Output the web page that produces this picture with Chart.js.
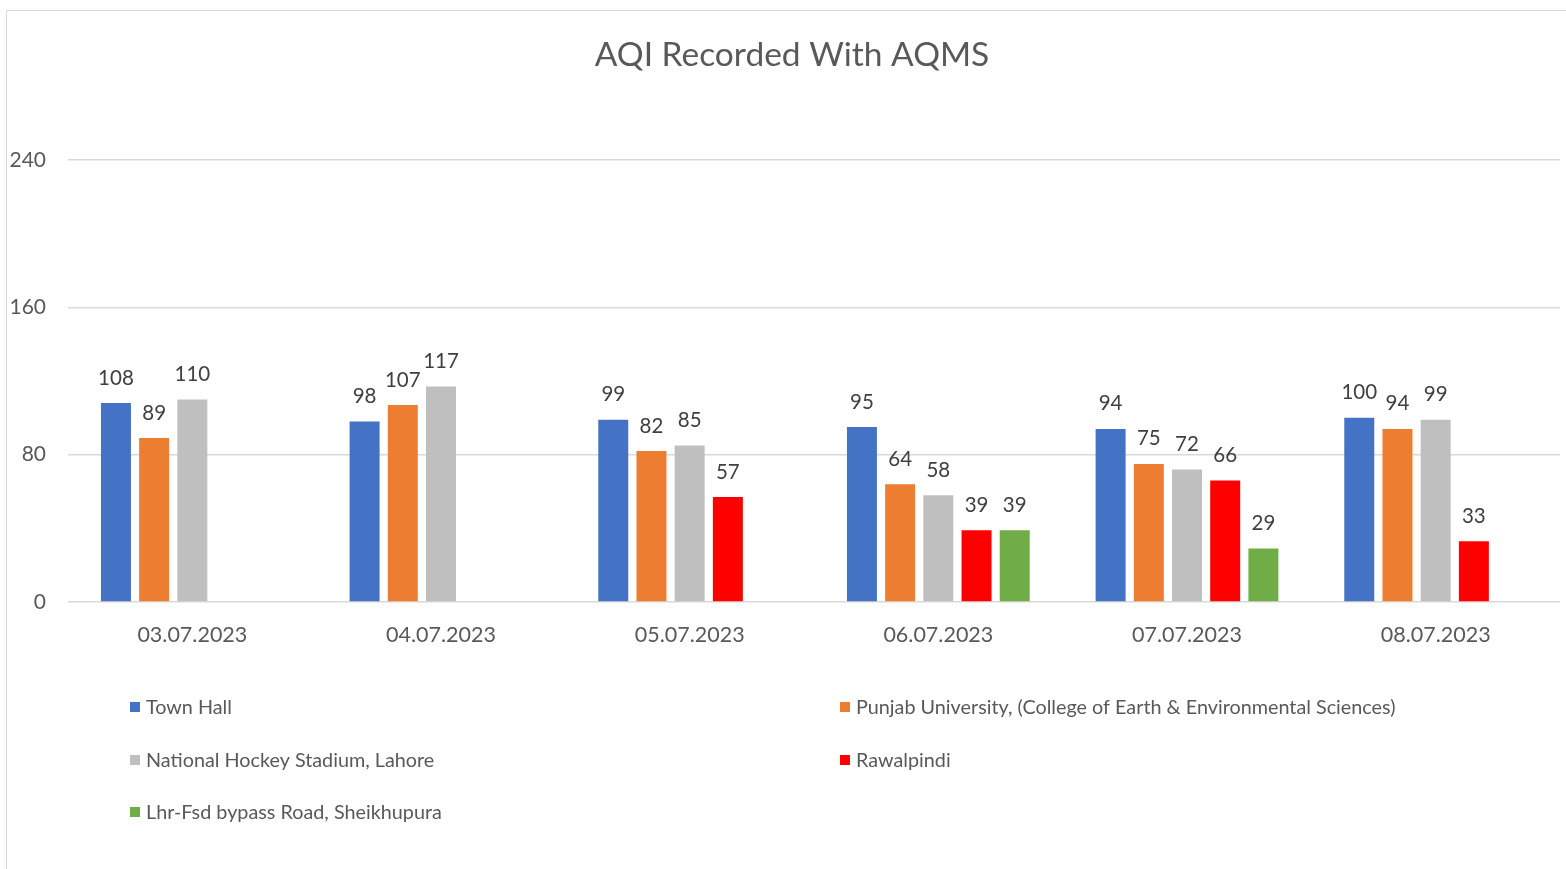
<!DOCTYPE html>
<html>
<head>
<meta charset="utf-8">
<script src="https://cdn.jsdelivr.net/npm/chart.js@4.4.1/dist/chart.umd.min.js"></script>
<style>
  html, body { margin: 0; padding: 0; background: #fff; overflow: hidden; }
  #frame { position: absolute; left: 6px; top: 10px; width: 1600px; height: 900px; border: 1.5px solid #D9D9D9; box-sizing: border-box; }
  #wrap { position: absolute; left: 0; top: 0; width: 1566px; height: 869px; }
</style>
</head>
<body>
<div id="frame"></div>
<div id="wrap"><canvas id="c" width="1566" height="869"></canvas></div>
<script>
const categories = ["03.07.2023", "04.07.2023", "05.07.2023", "06.07.2023", "07.07.2023", "08.07.2023"];
const townHall = [108, 98, 99, 95, 94, 100];
const punjabUniversity = [89, 107, 82, 64, 75, 94];
const hockeyStadium = [110, 117, 85, 58, 72, 99];
const rawalpindi = [null, null, 57, 39, 66, 33];
const sheikhupura = [null, null, null, 39, 29, null];
const seriesNames = [
  "Town Hall",
  "Punjab University, (College of Earth & Environmental Sciences)",
  "National Hockey Stadium, Lahore",
  "Rawalpindi",
  "Lhr-Fsd bypass Road, Sheikhupura"
];
const yTicks = [0, 80, 160, 240];
const titleText = "AQI Recorded With AQMS";

const colors = ["#4472C4", "#ED7D31", "#BFBFBF", "#FF0000", "#70AD47"];
const FONT = "Lato";
const TEXT = "#595959";

const seriesData = [townHall, punjabUniversity, hockeyStadium, rawalpindi, sheikhupura];

const labelPlugin = {
  id: "valueLabels",
  afterDatasetsDraw(chart) {
    const ctx = chart.ctx;
    ctx.save();
    ctx.font = "20.5px " + FONT;
    ctx.fillStyle = "#404040";
    ctx.textAlign = "center";
    ctx.textBaseline = "middle";
    chart.data.datasets.forEach((ds, i) => {
      const meta = chart.getDatasetMeta(i);
      meta.data.forEach((bar, j) => {
        const v = ds.data[j];
        if (v === null || v === undefined) return;
        ctx.fillText(String(v), bar.x, bar.y - 25);
      });
    });
    ctx.restore();
  }
};

const decorPlugin = {
  id: "decor",
  afterDraw(chart) {
    const ctx = chart.ctx;
    ctx.save();
    // title
    ctx.font = "33.5px " + FONT;
    ctx.fillStyle = TEXT;
    ctx.textAlign = "center";
    ctx.textBaseline = "middle";
    ctx.fillText(titleText, 792, 55);
    // legend
    const cols = [130, 840];
    const rows = [707, 760, 812];
    ctx.font = "19.8px " + FONT;
    ctx.textAlign = "left";
    chart.data.datasets.forEach((ds, i) => {
      const x = cols[i % 2];
      const y = rows[Math.floor(i / 2)];
      ctx.fillStyle = ds.backgroundColor;
      ctx.fillRect(x, y - 5, 10, 10);
      ctx.fillStyle = TEXT;
      ctx.fillText(ds.label, x + 16, y + 1);
    });
    ctx.restore();
  }
};

new Chart(document.getElementById("c"), {
  type: "bar",
  data: {
    labels: categories,
    datasets: seriesData.map((d, i) => ({
      label: seriesNames[i],
      data: d,
      backgroundColor: colors[i],
      borderWidth: 0,
      categoryPercentage: 0.768,
      barPercentage: 0.785
    }))
  },
  options: {
    responsive: false,
    animation: false,
    layout: { padding: { top: 160, right: 6, left: 0, bottom: 0 } },
    plugins: {
      legend: { display: false },
      title: { display: false },
      tooltip: { enabled: false }
    },
    scales: {
      x: {
        grid: { display: false, drawTicks: false },
        border: { display: false },
        ticks: { padding: 20, color: TEXT, font: { family: FONT, size: 21.5 } },
        afterFit(scale) { scale.height = 869 - 602; }
      },
      y: {
        min: 0,
        max: 240,
        afterBuildTicks(scale) { scale.ticks = yTicks.map(v => ({ value: v })); },
        grid: { color: "#D9D9D9", lineWidth: 1.5, drawTicks: false },
        border: { display: false },
        ticks: { padding: 22, color: TEXT, font: { family: FONT, size: 21 } },
        afterFit(scale) { scale.width = 68; }
      }
    }
  },
  plugins: [labelPlugin, decorPlugin]
});
</script>
</body>
</html>
